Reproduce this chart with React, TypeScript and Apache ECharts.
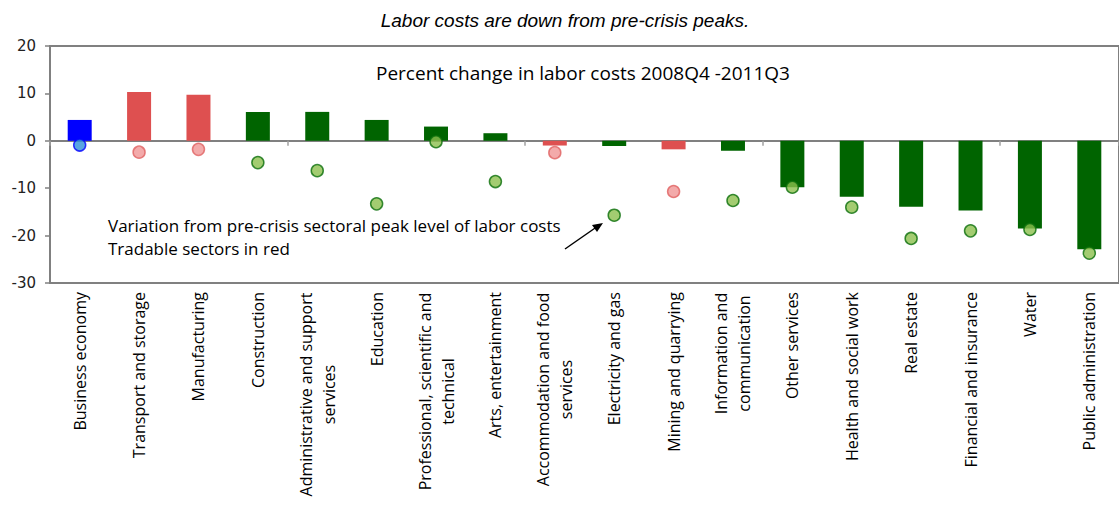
import React, { useEffect, useRef } from "react";
import * as echarts from "echarts";

const categories: string[] = [
  "Business economy",
  "Transport and storage",
  "Manufacturing",
  "Construction",
  "Administrative and support\nservices",
  "Education",
  "Professional, scientific and\ntechnical",
  "Arts, entertainment",
  "Accommodation and food\nservices",
  "Electricity and gas",
  "Mining and quarrying",
  "Information and\ncommunication",
  "Other services",
  "Health and social work",
  "Real estate",
  "Financial and insurance",
  "Water",
  "Public administration",
];

// "total" = business economy, "tradable" = red, "nontradable" = green
const sectorType: string[] = [
  "total", "tradable", "tradable", "nontradable", "nontradable", "nontradable",
  "nontradable", "nontradable", "tradable", "nontradable", "tradable", "nontradable",
  "nontradable", "nontradable", "nontradable", "nontradable", "nontradable", "nontradable",
];

// Percent change in labor costs 2008Q4 - 2011Q3
const changeValues: number[] = [
  4.4, 10.3, 9.7, 6.1, 6.1, 4.4, 3.0, 1.6, -1.0, -1.1, -1.8, -2.1,
  -9.8, -11.8, -13.9, -14.7, -18.5, -22.9,
];

// Variation from pre-crisis sectoral peak level of labor costs
const peakVariation: number[] = [
  -0.9, -2.4, -1.8, -4.6, -6.3, -13.3, -0.2, -8.6, -2.5, -15.7, -10.7, -12.6,
  -9.8, -14.0, -20.6, -19.0, -18.7, -23.7,
];

const yTicks = { min: -30, max: 20, interval: 10 };

const barColors: Record<string, string> = {
  total: "#0000FF",
  tradable: "#DE5050",
  nontradable: "#006400",
};
const dotFill: Record<string, string> = {
  total: "#2F8FDA",
  tradable: "#F09595",
  nontradable: "#8CBF4E",
};
const dotBorder: Record<string, string> = {
  total: "#0000FF",
  tradable: "#E06060",
  nontradable: "#0A6E0A",
};

const LABEL_FONT = "'Open Sans', 'Noto Sans', sans-serif";
const LABEL_SIZE = 16;

export default function App() {
  const ref = useRef<HTMLDivElement>(null);

  useEffect(() => {
    document.body.style.margin = "0";
    if (!ref.current) return;
    const chart = echarts.init(ref.current, undefined, { renderer: "svg" });

    const ctx = document.createElement("canvas").getContext("2d");
    const measure = (s: string) => {
      if (!ctx) return s.length * 8;
      ctx.font = `${LABEL_SIZE}px ${LABEL_FONT}`;
      return ctx.measureText(s).width;
    };

    const rich: Record<string, any> = {};
    categories.forEach((c, i) => {
      if (c.includes("\n")) {
        const w = Math.max(...c.split("\n").map(measure));
        rich["c" + i] = {
          width: Math.ceil(w) + 1,
          align: "center",
          fontSize: LABEL_SIZE,
          fontFamily: LABEL_FONT,
          color: "#000",
          lineHeight: 23,
        };
      }
    });

    const option: echarts.EChartsOption = {
      animation: false,
      backgroundColor: "#fff",
      title: {
        text: "Labor costs are down from pre-crisis peaks.",
        left: 560,
        textAlign: "center",
        top: 6,
        textStyle: {
          fontFamily: "'Liberation Sans', Arial, sans-serif",
          fontStyle: "italic",
          fontWeight: "normal",
          fontSize: 19,
          color: "#000",
        },
      },
      grid: {
        left: 50,
        right: 0,
        top: 46,
        height: 237,
        show: true,
        borderColor: "#808080",
        borderWidth: 2,
        backgroundColor: "transparent",
      },
      xAxis: [
        {
          type: "category",
          data: categories,
          position: "bottom",
          axisLine: { show: false, onZero: false },
          axisTick: { show: false },
          axisLabel: {
            interval: 0,
            rotate: 90,
            margin: 9,
            fontSize: LABEL_SIZE,
            fontFamily: LABEL_FONT,
            color: "#000",
            lineHeight: 23,
            rich,
            formatter: (value: string, index: number) => {
              if (!value.includes("\n")) return value;
              return value
                .split("\n")
                .map((l) => `{c${index}|${l}}`)
                .join("\n");
            },
          },
        },
        {
          type: "category",
          data: categories,
          position: "top",
          axisLine: { show: true, onZero: true, lineStyle: { color: "#808080", width: 2 } },
          axisTick: { show: true, inside: true, length: 5, lineStyle: { color: "#A0A0A0", width: 1.5 } },
          axisLabel: { show: false },
        },
      ],
      yAxis: {
        type: "value",
        min: yTicks.min,
        max: yTicks.max,
        interval: yTicks.interval,
        axisLine: { show: true, lineStyle: { color: "#808080", width: 2 } },
        axisTick: { show: true, length: 5, lineStyle: { color: "#808080", width: 1.5 } },
        splitLine: { show: false },
        axisLabel: {
          margin: 14,
          fontSize: 15,
          fontFamily: "'DejaVu Sans', Verdana, sans-serif",
          color: "#222",
        },
      },
      series: [
        {
          type: "bar",
          xAxisIndex: 0,
          barWidth: 24,
          data: changeValues.map((v, i) => ({
            value: v,
            itemStyle: { color: barColors[sectorType[i]] },
          })),
          z: 2,
        },
        {
          type: "scatter",
          xAxisIndex: 0,
          symbol: "circle",
          symbolSize: 12,
          data: peakVariation.map((v, i) => ({
            value: v,
            itemStyle: {
              color: dotFill[sectorType[i]],
              borderColor: dotBorder[sectorType[i]],
              borderWidth: 1.5,
            },
          })),
          z: 5,
        },
      ],
      graphic: [
        {
          type: "text",
          left: 376,
          top: 63,
          style: {
            text: "Percent change in labor costs 2008Q4 -2011Q3",
            font: `19px ${LABEL_FONT}`,
            fill: "#000",
          },
        },
        {
          type: "text",
          left: 108,
          top: 214,
          style: {
            text: "Variation from pre-crisis sectoral peak level of labor costs\nTradable sectors in red",
            font: `17px ${LABEL_FONT}`,
            lineHeight: 23,
            fill: "#000",
          },
        },
        {
          type: "line",
          shape: { x1: 565, y1: 249, x2: 598, y2: 226 },
          style: { stroke: "#000", lineWidth: 1.5 },
        },
        {
          type: "polygon",
          shape: { points: [[603, 223], [592, 225], [597, 232]] },
          style: { fill: "#000" },
        },
      ],
    };

    chart.setOption(option);
    return () => chart.dispose();
  }, []);

  return (
    <div
      ref={ref}
      style={{ position: "fixed", left: 0, top: 0, width: 1119, height: 510 }}
    />
  );
}
